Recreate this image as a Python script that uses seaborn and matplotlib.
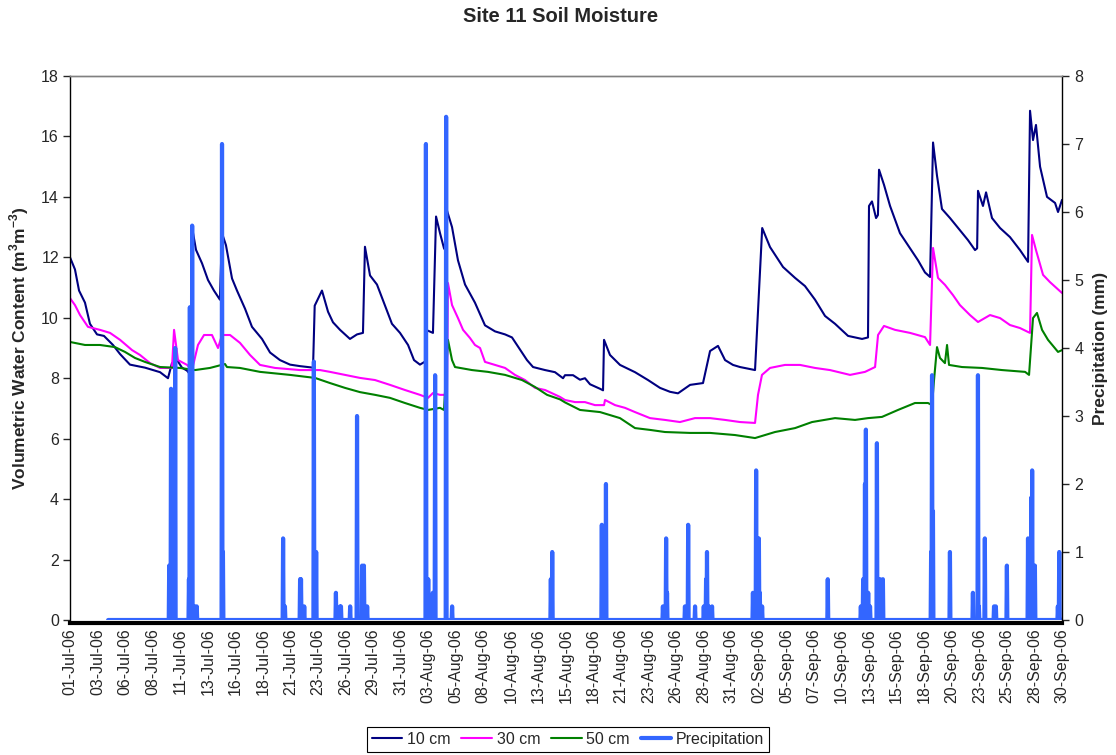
import numpy as np
import pandas as pd
import matplotlib
matplotlib.use("Agg")
import matplotlib.pyplot as plt
import seaborn as sns
from matplotlib.lines import Line2D

sns.set_style("ticks")
plt.rcParams["font.family"] = ["Liberation Sans", "DejaVu Sans"]
plt.rcParams["mathtext.fontset"] = "custom"
plt.rcParams["mathtext.rm"] = "Liberation Sans"
plt.rcParams["mathtext.bf"] = "Liberation Sans:bold"

START = pd.Timestamp("2006-07-01")

# Category-axis labels, one every 60 records
tick_labels = ["01-Jul-06", "03-Jul-06", "06-Jul-06", "08-Jul-06", "11-Jul-06",
               "13-Jul-06", "16-Jul-06", "18-Jul-06", "21-Jul-06", "23-Jul-06",
               "26-Jul-06", "29-Jul-06", "31-Jul-06", "03-Aug-06", "05-Aug-06",
               "08-Aug-06", "10-Aug-06", "13-Aug-06", "15-Aug-06", "18-Aug-06",
               "21-Aug-06", "23-Aug-06", "26-Aug-06", "28-Aug-06", "31-Aug-06",
               "02-Sep-06", "05-Sep-06", "07-Sep-06", "10-Sep-06", "13-Sep-06",
               "15-Sep-06", "18-Sep-06", "20-Sep-06", "23-Sep-06", "25-Sep-06",
               "28-Sep-06", "30-Sep-06"]

# Soil moisture at 10 cm: elapsed days since 01-Jul-06 and volumetric water content
d10_day = [0.00, 0.45, 0.82, 1.36, 1.81, 2.45, 3.08, 3.90, 4.54, 5.44,
           6.80, 8.17, 8.89, 9.25, 9.71, 10.16, 10.62, 10.95, 11.07, 11.43,
           11.98, 12.52, 13.06, 13.60, 13.79, 14.15, 14.70, 15.15, 15.88, 16.51,
           17.42, 18.15, 19.05, 19.96, 20.87, 22.05, 22.20, 22.86, 23.41, 23.86,
           24.50, 25.40, 26.04, 26.58, 26.76, 27.22, 27.85, 28.58, 29.21, 29.94,
           30.67, 31.21, 31.75, 32.21, 32.30, 32.93, 33.21, 33.57, 33.93, 34.11,
           34.20, 34.66, 35.20, 35.84, 36.74, 37.65, 38.56, 39.47, 40.10, 40.83,
           41.46, 42.01, 43.10, 44.00, 44.73, 44.91, 45.64, 46.27, 46.72, 47.18,
           48.09, 48.36, 48.45, 48.99, 49.90, 51.26, 52.44, 53.53, 54.44, 55.16,
           56.26, 57.43, 58.07, 58.79, 59.43, 60.15, 60.79, 62.15, 62.80, 63.51,
           64.69, 65.78, 66.68, 67.59, 68.50, 69.41, 70.59, 71.86, 72.40, 72.49,
           72.76, 73.13, 73.30, 73.40, 73.85, 74.40, 75.30, 76.03, 76.94, 77.57,
           78.03, 78.30, 78.66, 79.11, 79.84, 80.74, 81.47, 82.11, 82.30, 82.38,
           82.83, 83.11, 83.65, 84.38, 85.28, 86.19, 86.92, 87.10, 87.37, 87.64,
           88.01, 88.64, 89.37, 89.64, 90.00]
d10_vwc = [12.0, 11.6, 10.9, 10.5, 9.8, 9.45, 9.4, 9.1, 8.8, 8.45,
           8.35, 8.2, 8.0, 8.5, 8.6, 8.35, 8.25, 8.1, 13.0, 12.25,
           11.8, 11.25, 10.9, 10.6, 12.8, 12.4, 11.3, 10.9, 10.3, 9.7,
           9.3, 8.85, 8.6, 8.45, 8.4, 8.35, 10.4, 10.9, 10.2, 9.85,
           9.6, 9.3, 9.45, 9.5, 12.35, 11.4, 11.1, 10.4, 9.8, 9.5,
           9.1, 8.6, 8.45, 8.55, 9.6, 9.5, 13.35, 12.8, 12.3, 12.2,
           13.55, 13.0, 11.9, 11.1, 10.5, 9.75, 9.55, 9.45, 9.35, 8.95,
           8.6, 8.37, 8.27, 8.2, 8.0, 8.1, 8.1, 7.95, 8.0, 7.8,
           7.65, 7.6, 9.27, 8.77, 8.44, 8.2, 7.94, 7.68, 7.55, 7.5,
           7.78, 7.84, 8.9, 9.07, 8.6, 8.44, 8.37, 8.27, 12.97, 12.34,
           11.68, 11.32, 11.05, 10.6, 10.06, 9.8, 9.4, 9.3, 9.35, 13.7,
           13.85, 13.3, 13.4, 14.9, 14.4, 13.7, 12.8, 12.4, 11.9, 11.5,
           11.35, 15.8, 14.7, 13.6, 13.3, 12.9, 12.57, 12.24, 12.3, 14.2,
           13.7, 14.15, 13.3, 12.97, 12.67, 12.24, 11.85, 16.85, 15.88, 16.38,
           15.0, 14.0, 13.8, 13.5, 13.9]

# Soil moisture at 30 cm
d30_day = [0.00, 0.45, 0.91, 1.63, 2.72, 3.63, 4.54, 5.63, 6.35, 7.26,
           8.17, 9.25, 9.44, 9.80, 10.62, 11.07, 11.61, 12.16, 12.88, 13.43,
           13.79, 14.52, 15.42, 16.33, 17.24, 18.60, 20.87, 22.68, 23.59, 24.95,
           26.31, 27.67, 29.03, 30.39, 31.75, 32.48, 32.93, 33.57, 34.20, 34.29,
           34.66, 35.20, 35.66, 36.29, 36.74, 37.20, 37.65, 38.56, 39.47, 40.37,
           41.28, 42.19, 43.10, 44.46, 44.91, 45.82, 46.72, 47.63, 48.45, 48.54,
           49.45, 50.35, 51.26, 52.62, 53.98, 55.34, 56.70, 58.07, 59.43, 60.79,
           62.15, 62.42, 62.78, 63.51, 64.87, 66.23, 67.59, 68.95, 70.77, 72.13,
           73.04, 73.31, 73.85, 74.85, 76.21, 77.57, 78.03, 78.30, 78.75, 79.38,
           80.11, 80.74, 81.65, 82.38, 83.47, 84.38, 85.28, 86.19, 86.92, 87.10,
           87.28, 87.64, 88.28, 88.91, 90.00]
d30_vwc = [10.65, 10.42, 10.09, 9.7, 9.6, 9.5, 9.27, 8.93, 8.77, 8.5,
           8.34, 8.34, 9.6, 8.6, 8.44, 8.27, 9.1, 9.43, 9.43, 9.0,
           9.43, 9.43, 9.17, 8.77, 8.44, 8.34, 8.27, 8.27, 8.21, 8.11,
           8.01, 7.94, 7.78, 7.61, 7.45, 7.35, 7.51, 7.45, 7.45, 11.15,
           10.42, 9.99, 9.6, 9.33, 9.1, 9.0, 8.54, 8.44, 8.34, 8.11,
           7.94, 7.68, 7.61, 7.38, 7.28, 7.21, 7.21, 7.11, 7.11, 7.28,
           7.11, 7.02, 6.88, 6.68, 6.62, 6.55, 6.68, 6.68, 6.62, 6.55,
           6.52, 7.45, 8.11, 8.34, 8.44, 8.44, 8.34, 8.27, 8.11, 8.21,
           8.37, 9.43, 9.73, 9.6, 9.5, 9.36, 9.1, 12.31, 11.32, 11.09,
           10.75, 10.42, 10.09, 9.86, 10.09, 9.99, 9.76, 9.66, 9.53, 9.5,
           12.74, 12.24, 11.42, 11.18, 10.82]

# Soil moisture at 50 cm
d50_day = [0.00, 1.36, 2.72, 4.08, 4.99, 5.90, 6.80, 8.17, 9.98, 11.34,
           12.70, 14.06, 14.24, 15.42, 17.24, 19.96, 22.23, 23.59, 24.95, 26.31,
           27.67, 29.03, 30.39, 31.75, 32.48, 33.57, 33.93, 34.29, 34.66, 34.93,
           36.47, 37.92, 39.47, 41.01, 42.19, 43.28, 44.46, 44.91, 46.27, 48.09,
           49.90, 51.26, 52.62, 53.98, 56.25, 58.07, 60.33, 62.15, 63.96, 65.78,
           67.32, 69.41, 71.22, 72.40, 73.67, 75.12, 76.66, 77.84, 78.21, 78.39,
           78.66, 78.93, 79.38, 79.57, 79.75, 80.93, 82.74, 84.56, 86.65, 87.01,
           87.37, 87.73, 88.19, 88.73, 89.64, 90.00]
d50_vwc = [9.2, 9.1, 9.1, 9.03, 8.87, 8.67, 8.54, 8.37, 8.34, 8.27,
           8.34, 8.47, 8.37, 8.34, 8.21, 8.11, 8.01, 7.84, 7.68, 7.54,
           7.45, 7.35, 7.18, 7.02, 6.95, 7.02, 6.95, 9.27, 8.6, 8.37,
           8.27, 8.21, 8.11, 7.94, 7.71, 7.45, 7.3, 7.2, 6.95, 6.88,
           6.68, 6.35, 6.29, 6.22, 6.19, 6.19, 6.12, 6.02, 6.22, 6.35,
           6.55, 6.68, 6.62, 6.68, 6.72, 6.95, 7.18, 7.18, 7.11, 7.94,
           9.03, 8.67, 8.5, 9.1, 8.44, 8.37, 8.34, 8.27, 8.21, 8.11,
           9.99, 10.16, 9.6, 9.27, 8.87, 8.93]

# Hourly rain gauge: logging starts at hour 83; listed hours carry the tips in mm
precip_first_hour = 83
precip_last_hour = 2160
precip_day = [8.98, 9.16, 9.53, 10.80, 10.89, 11.07, 11.34, 11.52, 13.79, 13.88,
              19.33, 19.51, 20.87, 20.96, 21.23, 22.14, 22.32, 24.13, 24.50, 24.59,
              25.40, 26.04, 26.49, 26.67, 26.95, 32.30, 32.48, 32.84, 32.93, 33.12,
              34.11, 34.66, 43.64, 43.73, 48.27, 48.63, 53.80, 54.07, 54.16, 55.80,
              56.07, 56.70, 57.52, 57.70, 57.79, 57.97, 58.25, 61.97, 62.15, 62.24,
              62.51, 62.60, 62.78, 68.77, 71.77, 71.95, 72.13, 72.22, 72.40, 72.58,
              73.22, 73.49, 73.76, 78.12, 78.21, 78.30, 79.84, 81.93, 82.38, 82.47,
              83.02, 83.83, 84.01, 85.01, 86.92, 87.01, 87.19, 87.28, 87.55, 89.64,
              89.73]
precip_mm = [0.8, 3.4, 4.0, 0.6, 4.6, 5.8, 0.2, 0.2, 7.0, 1.0,
             1.2, 0.2, 0.6, 0.6, 0.2, 3.8, 1.0, 0.4, 0.2, 0.2,
             0.2, 3.0, 0.8, 0.8, 0.2, 7.0, 0.6, 0.2, 0.4, 3.6,
             7.4, 0.2, 0.6, 1.0, 1.4, 2.0, 0.2, 1.2, 0.4, 0.2,
             1.4, 0.2, 0.2, 0.6, 1.0, 0.2, 0.2, 0.4, 0.4, 2.2,
             1.2, 0.4, 0.2, 0.6, 0.2, 0.6, 2.0, 2.8, 0.4, 0.2,
             2.6, 0.6, 0.6, 1.0, 3.6, 1.6, 1.0, 0.4, 3.6, 0.2,
             1.2, 0.2, 0.2, 0.8, 1.2, 0.4, 1.8, 2.2, 0.8, 0.2,
             1.0]

series_labels = ["10 cm", "30 cm", "50 cm", "Precipitation"]
series_colors = ["#000080", "#FF00FF", "#008000", "#3366FF"]


def to_time(days):
    return START + pd.to_timedelta(np.asarray(days, dtype=float), unit="D")


soil = [
    pd.DataFrame({"time": to_time(d10_day), "vwc": d10_vwc}),
    pd.DataFrame({"time": to_time(d30_day), "vwc": d30_vwc}),
    pd.DataFrame({"time": to_time(d50_day), "vwc": d50_vwc}),
]

hours = np.arange(precip_first_hour, precip_last_hour + 1)
rain = np.zeros(len(hours))
for d, mm in zip(precip_day, precip_mm):
    rain[int(round(d * 24)) - precip_first_hour] = mm
df_rain = pd.DataFrame({"time": START + pd.to_timedelta(hours, unit="h"), "mm": rain})

W, H = 1116, 755
fig = plt.figure(figsize=(W / 100, H / 100), dpi=100)
ax = fig.add_axes([70 / W, 1 - 620 / H, 992 / W, 544 / H])

for df, color in zip(soil, series_colors[:3]):
    sns.lineplot(data=df, x="time", y="vwc", ax=ax, color=color, lw=1.5,
                 estimator=None, legend=False)

ax2 = ax.twinx()
sns.lineplot(data=df_rain, x="time", y="mm", ax=ax2, color=series_colors[3],
             lw=3.0, estimator=None, legend=False)

# axes ranges and ticks
ax.set_xlim(START, START + pd.Timedelta(days=90))
ax.set_ylim(0, 18)
ax.set_yticks(np.arange(0, 19, 2))
ax2.set_ylim(0, 8)
ax2.set_yticks(np.arange(0, 9, 1))

xt = pd.date_range(START, periods=len(tick_labels), freq="60h")
ax.set_xticks(xt)
ax.set_xticklabels(tick_labels)
ax.tick_params(axis="x", length=0, pad=4, labelrotation=90, labelsize=11.5)
ax.tick_params(axis="y", direction="out", length=5, width=1, labelsize=11.5,
               pad=3)
ax2.tick_params(axis="y", direction="out", length=5, width=1, labelsize=11.5,
                pad=4)

ax.set_xlabel("")
ax.set_ylabel(r"Volumetric Water Content (m$^\mathbf{3}$m$^\mathbf{-3}$)",
              fontsize=12.5, fontweight="bold", labelpad=7)
ax2.set_ylabel("Precipitation (mm)", fontsize=12.5, fontweight="bold",
               labelpad=7)

# frame
for a in (ax, ax2):
    a.spines["top"].set_color("#808080")
    a.spines["top"].set_linewidth(1)
    a.grid(False)
ax.spines["right"].set_visible(False)
ax2.spines["left"].set_visible(False)
ax2.spines["bottom"].set_visible(False)
ax.spines["left"].set_color("black")
ax.spines["left"].set_linewidth(1)
ax2.spines["right"].set_color("black")
ax2.spines["right"].set_linewidth(1)
ax.spines["bottom"].set_color("black")
ax.spines["bottom"].set_linewidth(3)
ax.spines["bottom"].set_position(("outward", 2))

fig.text(561 / W, 1 - 17 / H, "Site 11 Soil Moisture", ha="center",
         va="center", fontsize=14.5, fontweight="bold")

handles = [Line2D([], [], color=c, lw=w)
           for c, w in zip(series_colors, [1.5, 1.5, 1.5, 3.0])]
leg = fig.legend(handles, series_labels, loc="center",
                 bbox_to_anchor=(568 / W, 1 - 739.5 / H), ncol=4,
                 fontsize=11.5, handlelength=1.9, handletextpad=0.3,
                 columnspacing=0.7, borderpad=0.3, fancybox=False,
                 edgecolor="black", framealpha=1)
leg.get_frame().set_linewidth(0.8)

fig.savefig("out.png", dpi=100)
